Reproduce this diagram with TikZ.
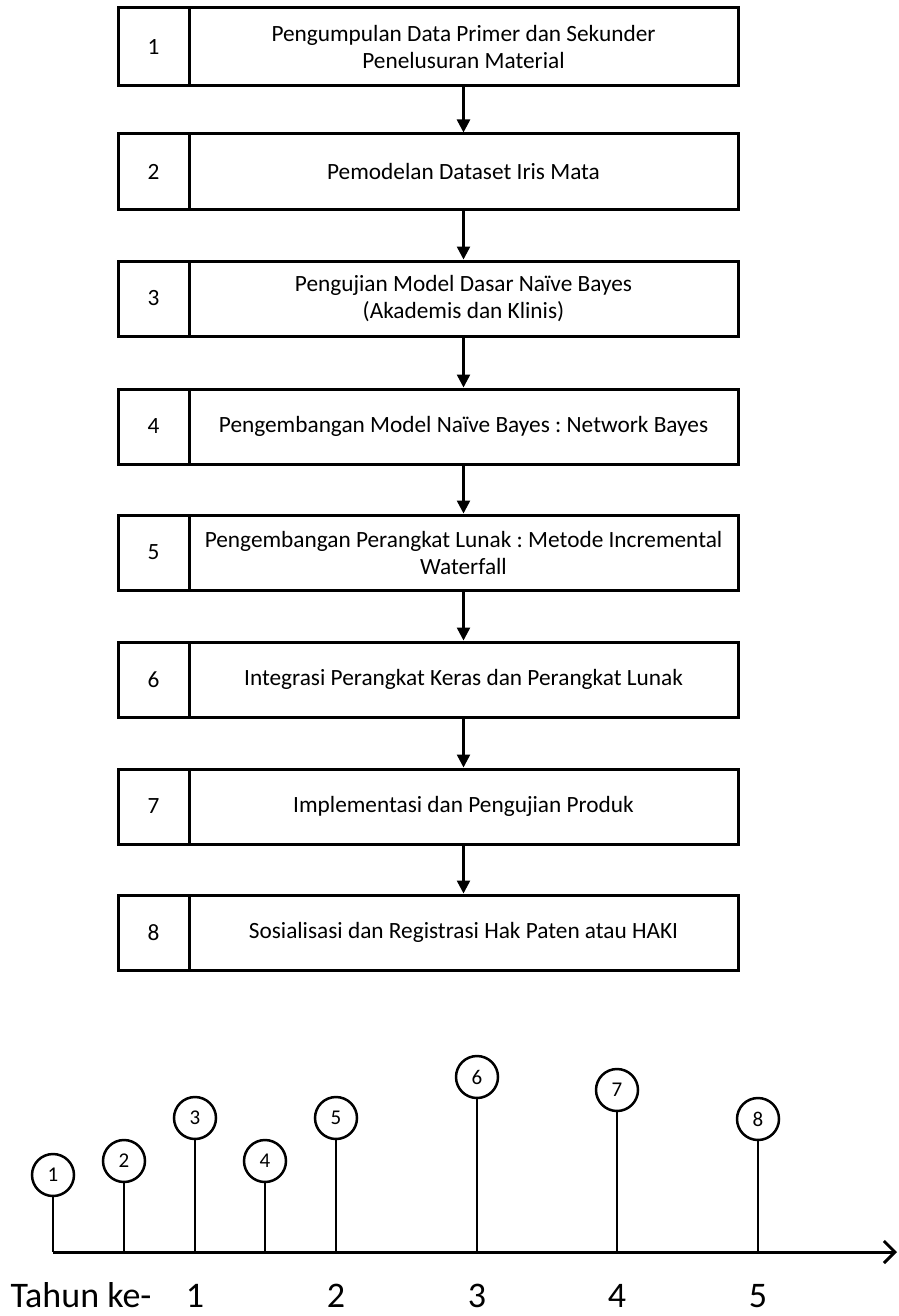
\documentclass[tikz,border=0pt]{standalone}
\usepackage{fontspec}
\setmainfont{Carlito}
\usetikzlibrary{arrows.meta}
\frenchspacing
\begin{document}
\begin{tikzpicture}[x=1pt,y=-1pt,
  cell/.style={draw, line width=3pt, rectangle, inner sep=0pt, align=center,
    font=\fontsize{23.3}{27}\selectfont},
  numcell/.style={cell, minimum width=71pt, minimum height=#1},
  textcell/.style={cell, minimum width=549pt, minimum height=#1},
  flow/.style={line width=2.5pt, -{Triangle[length=13pt,width=13pt]}},
  phase/.style={draw, circle, line width=2.5pt, minimum size=42pt, inner sep=0pt,
    font=\fontsize{21}{24}\selectfont},
  stem/.style={line width=2.5pt},
  year/.style={inner sep=0pt, anchor=base, font=\fontsize{36}{40}\selectfont}
]
\useasboundingbox (0,0) rectangle (898,1316);

% stage table: number cell + description cell
\node[numcell=78pt]  (n1) at (153.5,47)    {1};
\node[textcell=78pt] (t1) at (463.5,47)    {Pengumpulan Data Primer dan Sekunder\\Penelusuran Material};
\node[numcell=75pt]  (n2) at (153.5,171.5) {2};
\node[textcell=75pt] (t2) at (463.5,171.5) {Pemodelan Dataset Iris Mata};
\node[numcell=75pt]  (n3) at (153.5,298.5) {3};
\node[textcell=75pt] (t3) at (463.5,298.5) {Pengujian Model Dasar Naïve Bayes\\(Akademis dan Klinis)};
\node[numcell=75pt]  (n4) at (153.5,426.5) {4};
\node[textcell=75pt] (t4) at (463.5,426.5) {Pengembangan Model Naïve Bayes : Network Bayes};
\node[numcell=75pt]  (n5) at (153.5,552.5) {5};
\node[textcell=75pt] (t5) at (463.5,552.5) {Pengembangan Perangkat Lunak : Metode Incremental\\Waterfall};
\node[numcell=75pt]  (n6) at (153.5,679.5) {6};
\node[textcell=75pt] (t6) at (463.5,679.5) {Integrasi Perangkat Keras dan Perangkat Lunak};
\node[numcell=75pt]  (n7) at (153.5,806.5) {7};
\node[textcell=75pt] (t7) at (463.5,806.5) {Implementasi dan Pengujian Produk};
\node[numcell=75pt]  (n8) at (153.5,932.5) {8};
\node[textcell=75pt] (t8) at (463.5,932.5) {Sosialisasi dan Registrasi Hak Paten atau HAKI};

\draw[flow] (t1.south) -- (t2.north);
\draw[flow] (t2.south) -- (t3.north);
\draw[flow] (t3.south) -- (t4.north);
\draw[flow] (t4.south) -- (t5.north);
\draw[flow] (t5.south) -- (t6.north);
\draw[flow] (t6.south) -- (t7.north);
\draw[flow] (t7.south) -- (t8.north);

% timeline
\coordinate (ax0) at (53,1252);
\coordinate (ax1) at (897,1252);
\draw[line width=3pt, -{Straight Barb[length=11pt,width=22pt,line width=3pt]}] (ax0) -- (ax1);

\node[phase] (c1) at (53,1175)  {1};
\node[phase] (c2) at (124,1161) {2};
\node[phase] (c3) at (195,1118) {3};
\node[phase] (c4) at (265,1161) {4};
\node[phase] (c5) at (336,1118) {5};
\node[phase] (c6) at (477,1077) {6};
\node[phase] (c7) at (617,1090) {7};
\node[phase] (c8) at (758,1119) {8};

\foreach \c in {c1,c2,c3,c4,c5,c6,c7,c8}
  \draw[stem] (\c.south) -- (\c.south |- ax0);

% year scale under the axis
\node[year] (yl) at (81,1307)  {Tahun ke-};
\node[year] (y1) at (195,1307) {1};
\node[year] (y2) at (336,1307) {2};
\node[year] (y3) at (477,1307) {3};
\node[year] (y4) at (617,1307) {4};
\node[year] (y5) at (758,1307) {5};
\end{tikzpicture}
\end{document}
